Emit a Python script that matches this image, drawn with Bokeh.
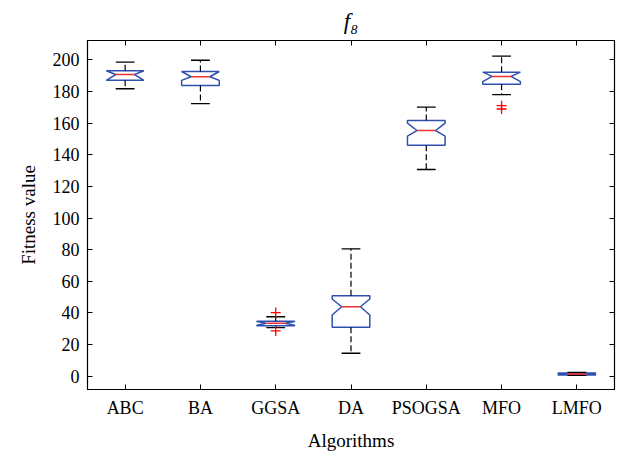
import numpy as np
from bokeh.plotting import figure
from bokeh.models import Range1d, FixedTicker, LinearAxis, CustomJSTickFormatter
from bokeh.embed import file_html
from bokeh.resources import INLINE

# ---- data ----
algorithms = ["ABC", "BA", "GGSA", "DA", "PSOGSA", "MFO", "LMFO"]
whisker_low = [181.7, 172.3, 30.7, 14.5, 130.7, 178.0, 0.5]
q1 = [187.0, 183.8, 31.9, 30.9, 146.0, 184.6, 0.8]
notch_low = [187.0, 187.0, 32.2, 38.7, 151.7, 186.2, 1.0]
median = [190.7, 189.3, 33.5, 43.9, 155.3, 189.5, 1.4]
notch_high = [193.1, 192.6, 34.6, 48.8, 160.0, 192.2, 1.8]
q3 = [193.1, 192.6, 34.7, 50.9, 161.6, 192.2, 2.0]
whisker_high = [198.5, 199.7, 37.6, 80.5, 170.1, 202.3, 2.3]
outlier_alg = ["GGSA", "GGSA", "MFO", "MFO"]
outlier_val = [40.2, 28.6, 171.0, 168.9]
y_ticks = [0, 20, 40, 60, 80, 100, 120, 140, 160, 180, 200]
title_text = "f\u2088"

FONT = "Liberation Serif"
BLUE = "#3050b0"
RED = "#f03030"

xs = np.arange(1, len(algorithms) + 1)
box_w = 0.5
notch_w = 0.25

p = figure(width=623, height=460, output_backend="svg", toolbar_location=None,
           x_range=Range1d(0.5, 7.5), y_range=Range1d(-8.4, 212.2),
           min_border_left=87, min_border_right=9, min_border_top=0, min_border_bottom=71)
p.background_fill_color = "white"
p.border_fill_color = "white"
p.outline_line_color = "black"
p.outline_line_width = 1.2
p.xgrid.visible = False
p.ygrid.visible = False

p.title.text = title_text
p.title.align = "center"
p.title.text_font = FONT
p.title.text_font_style = "italic"
p.title.text_font_size = "23px"
p.title.text_color = "black"
p.title.offset = 0
p.title.standoff = 13

# notched boxes
pxs, pys = [], []
for i, x in enumerate(xs):
    L, R = x - box_w / 2, x + box_w / 2
    pxs.append([L, L, x - notch_w / 2, L, L, R, R, x + notch_w / 2, R, R])
    pys.append([q1[i], notch_low[i], median[i], notch_high[i], q3[i],
                q3[i], notch_high[i], median[i], notch_low[i], q1[i]])
p.patches(pxs, pys, fill_color=None, line_color=BLUE, line_width=1.5)

# whiskers
p.segment(x0=xs, y0=q3, x1=xs, y1=whisker_high, line_color="black", line_width=1.2, line_dash="6 3")
p.segment(x0=xs, y0=q1, x1=xs, y1=whisker_low, line_color="black", line_width=1.2, line_dash="6 3")
# caps
p.segment(x0=xs - notch_w / 2, y0=whisker_high, x1=xs + notch_w / 2, y1=whisker_high, line_color="black", line_width=1.4)
p.segment(x0=xs - notch_w / 2, y0=whisker_low, x1=xs + notch_w / 2, y1=whisker_low, line_color="black", line_width=1.4)
# medians
p.segment(x0=xs - notch_w / 2, y0=median, x1=xs + notch_w / 2, y1=median, line_color=RED, line_width=1.5)
# outliers
ox = [algorithms.index(a) + 1 for a in outlier_alg]
p.scatter(ox, outlier_val, marker="cross", size=10, line_color="red", line_width=1.3)

# axes
p.xaxis.ticker = FixedTicker(ticks=list(xs))
p.xaxis.major_label_overrides = {int(x): a for x, a in zip(xs, algorithms)}
p.yaxis.ticker = FixedTicker(ticks=y_ticks)
for ax in (p.xaxis[0], p.yaxis[0]):
    ax.major_tick_in = 5
    ax.major_tick_out = 0
    ax.minor_tick_in = 0
    ax.minor_tick_out = 0
    ax.axis_line_color = "black"
    ax.major_tick_line_color = "black"
    ax.major_label_text_font = FONT
    ax.major_label_text_font_size = "18px"
    ax.major_label_text_color = "black"
    ax.axis_label_text_font = FONT
    ax.axis_label_text_font_size = "19px"
    ax.axis_label_text_font_style = "normal"
    ax.axis_label_text_color = "black"
p.xaxis.axis_label = "Algorithms"
p.yaxis.axis_label = "Fitness value"
p.xaxis.major_label_standoff = 8
p.xaxis.axis_label_standoff = 9
p.yaxis.major_label_standoff = 8
p.yaxis.axis_label_standoff = 11

empty = CustomJSTickFormatter(code="return ''")
right = LinearAxis(ticker=FixedTicker(ticks=y_ticks), formatter=empty,
                   major_tick_in=5, major_tick_out=0, minor_tick_in=0, minor_tick_out=0,
                   major_label_standoff=0, axis_line_color="black")
top = LinearAxis(ticker=FixedTicker(ticks=list(xs)), formatter=empty,
                 major_tick_in=5, major_tick_out=0, minor_tick_in=0, minor_tick_out=0,
                 major_label_standoff=0, axis_line_color="black")
p.add_layout(right, "right")
p.add_layout(top, "above")

open("out.html", "w").write(file_html(p, INLINE))
